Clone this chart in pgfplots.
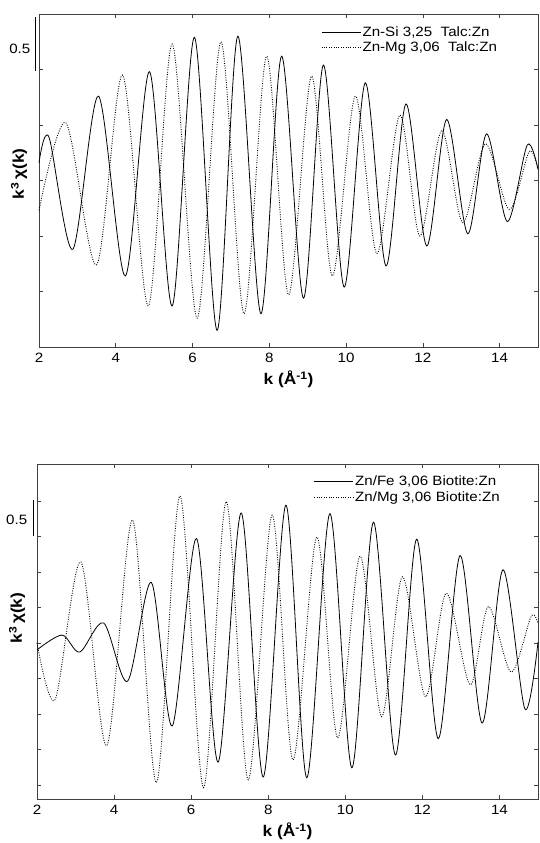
\documentclass[border=0pt]{standalone}
\usepackage{fontspec}
\setmainfont{Liberation Sans}[FakeStretch=1.12]
\usepackage{pgfplots}
\pgfplotsset{compat=1.18}

\pgfplotstableread{
k y
2.00 0.16
2.26 0.39
2.88 -0.62
3.55 0.76
4.25 -0.86
4.88 0.98
5.47 -1.13
6.05 1.29
6.64 -1.35
7.18 1.30
7.78 -1.20
8.32 1.12
8.89 -1.06
9.41 1.04
9.95 -0.96
10.50 0.88
11.04 -0.77
11.56 0.69
12.10 -0.59
12.62 0.55
13.17 -0.48
13.66 0.42
14.20 -0.37
14.72 0.32
15.00 0.10
}\talcSi

\pgfplotstableread{
k y
2.00 -0.27
2.70 0.52
3.50 -0.76
4.18 0.95
4.85 -1.13
5.47 1.23
6.12 -1.24
6.74 1.25
7.34 -1.20
7.93 1.12
8.50 -1.03
9.10 0.94
9.64 -0.86
10.24 0.76
10.80 -0.66
11.40 0.59
11.92 -0.50
12.49 0.45
13.04 -0.38
13.63 0.33
14.25 -0.26
14.77 0.26
15.00 0.10
}\talcMg

\pgfplotstableread{
k y
2.00 -0.10
2.65 0.11
3.11 -0.13
3.73 0.28
4.35 -0.54
4.97 0.85
5.51 -1.17
6.14 1.47
6.70 -1.68
7.30 1.83
7.87 -1.89
8.46 1.94
9.00 -1.90
9.60 1.82
10.17 -1.76
10.73 1.70
11.30 -1.58
11.85 1.46
12.41 -1.35
12.98 1.23
13.55 -1.13
14.09 1.03
14.66 -0.93
15.00 0.01
}\bioFe

\pgfplotstableread{
k y
2.00 0.00
2.47 -0.80
3.14 1.14
3.81 -1.45
4.48 1.73
5.10 -1.97
5.71 2.07
6.32 -2.04
6.91 1.99
7.48 -1.93
8.10 1.80
8.64 -1.65
9.26 1.49
9.80 -1.34
10.38 1.22
10.94 -1.04
11.48 0.93
12.08 -0.76
12.62 0.70
13.24 -0.59
13.71 0.51
14.30 -0.41
14.82 0.37
15.00 0.27
}\bioMg

\pgfplotsset{
  exafs/.style={
    scale only axis,
    xmin=2, xmax=15, xtick={2,4,...,14},
    tick align=inside, major tick length=4pt,
    yticklabels={},
    axis line style={line width=0.9pt, black!75},
    every tick/.style={black!75, line width=0.6pt},
    tick label style={font=\fontsize{13.5}{15}\selectfont, /pgf/number format/assume math mode=true},
    xticklabel style={yshift=-3pt},
    clip=false,
    xlabel={\textbf{k (Å\textsuperscript{-1})}},
    ylabel={\textbf{k\textsuperscript{3}\,χ(k)}},
    label style={font=\fontsize{15.5}{17}\selectfont},
    xlabel style={yshift=-1pt},
    legend cell align=left,
    legend image code/.code={\draw[#1] (0pt,0pt) -- (39pt,0pt);},
    legend style={draw=none, fill=none, font=\fontsize{13.5}{15}\selectfont,
      inner sep=0pt, row sep=1.5pt, nodes={inner sep=1.5pt}, anchor=north west},
  },
  solidc/.style={black, line width=0.8pt, smooth},
  dotc/.style={black, line width=0.9pt, dash pattern=on 0.9pt off 1.5pt, smooth},
}

\begin{document}
\begin{tikzpicture}
\useasboundingbox (0pt,0pt) rectangle (539pt,843pt);

% top panel
\begin{axis}[exafs,
  at={(39pt,496pt)}, anchor=south west,
  width=499pt, height=333pt,
  ymin=-1.5, ymax=1.5, ytick={-1,-0.5,0,0.5,1},
  ylabel style={at={(axis description cs:-0.04,0.52)}, anchor=center},
  legend style={at={(rel axis cs:0.565,0.968)}},
]
\addplot[solidc] table[x=k,y=y] {\talcSi};
\addlegendentry{Zn-Si 3,25\ \ Talc:Zn}
\addplot[dotc] table[x=k,y=y] {\talcMg};
\addlegendentry{Zn-Mg 3,06\ \ Talc:Zn}
\draw[line width=0.8pt] (axis cs:1.9,1.47) -- (axis cs:1.9,0.99);
\node[anchor=east, font=\fontsize{13.5}{15}\selectfont, inner sep=0pt] at (axis cs:1.78,1.19) {0.5};
\end{axis}

% bottom panel
\begin{axis}[exafs,
  at={(37pt,44pt)}, anchor=south west,
  width=501pt, height=335pt,
  ymin=-2.2, ymax=2.52, ytick={-2,-1.5,...,2},
  ylabel style={at={(axis description cs:-0.04,0.54)}, anchor=center},
  legend style={at={(rel axis cs:0.552,0.97)}},
]
\addplot[solidc] table[x=k,y=y] {\bioFe};
\addlegendentry{Zn/Fe 3,06 Biotite:Zn}
\addplot[dotc] table[x=k,y=y] {\bioMg};
\addlegendentry{Zn/Mg 3,06 Biotite:Zn}
\draw[line width=0.8pt] (axis cs:1.9,2.01) -- (axis cs:1.9,1.51);
\node[anchor=east, font=\fontsize{13.5}{15}\selectfont, inner sep=0pt] at (axis cs:1.75,1.73) {0.5};
\end{axis}
\end{tikzpicture}
\end{document}
